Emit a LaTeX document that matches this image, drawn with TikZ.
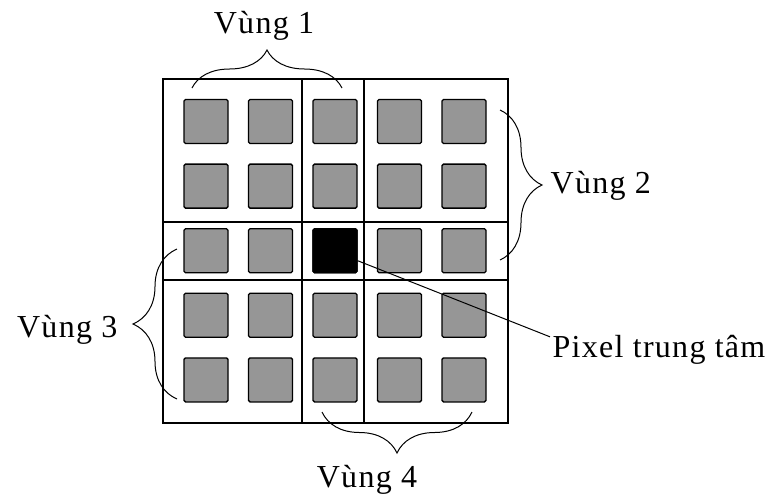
\documentclass[tikz,border=0pt]{standalone}
\usepackage{fontspec}
\setmainfont{Liberation Serif}[LetterSpace=4]
\usetikzlibrary{decorations.pathreplacing}
\definecolor{pixgray}{RGB}{150,150,150}
\begin{document}
\begin{tikzpicture}
    [x=1pt,y=-1pt,line width=1.3pt,
     every node/.style={inner sep=0pt,font=\fontsize{32}{36}\selectfont},
     pix/.style={draw,fill=pixgray,minimum size=44pt,rounded corners=1.5pt},
     brc/.style={decorate,decoration={brace,amplitude=#1},line width=1pt}]
    \useasboundingbox (0,0) rectangle (776,499);
    % khung
    \draw (163,79) rectangle (508,423);
    \draw (302,79) -- (302,423) (364,79) -- (364,423);
    \draw (163,222) -- (508,222) (163,280) -- (508,280);
    % cac pixel
    \foreach \r in {1,...,5}
        \foreach \c in {1,...,5}
            \node [pix] (p-\r-\c) at ({206+64.5*(\c-1)},{121.5+64.6*(\r-1)}) {};
    \node [pix,fill=black] (ctr) at (p-3-3) {};
    % nhan
    \node [anchor=base] (v1) at (264,33) {Vùng 1};
    \node [anchor=base west] (v2) at (550,193) {Vùng 2};
    \node [anchor=base east] (v3) at (118,337) {Vùng 3};
    \node [anchor=base] (v4) at (367,487) {Vùng 4};
    \node [anchor=base west] (pt) at (552,357) {Pixel trung tâm};
    % ngoac
    \draw [brc=38pt] (192,88) -- (342,88);
    \draw [brc=42pt] (500,110) -- (500,260);
    \draw [brc=44pt] (177,399) -- (177,249);
    \draw [brc=41pt] (472,412) -- (322,412);
    \draw [line width=1pt] ([yshift=-10pt]ctr.east) -- ([xshift=-2pt,yshift=12.5pt]pt.west);
\end{tikzpicture}
\end{document}
